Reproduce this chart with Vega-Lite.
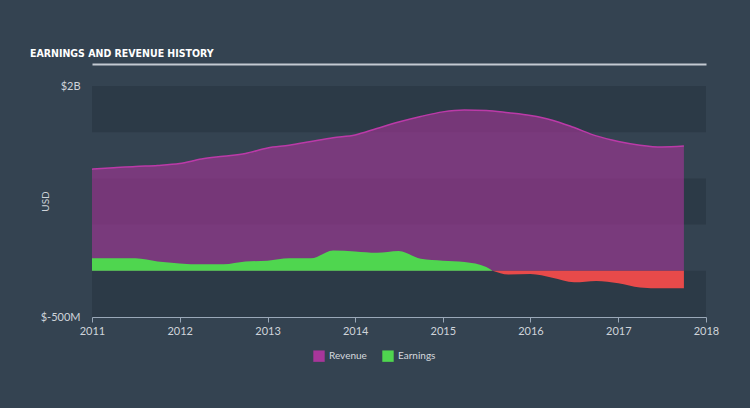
{
  "$schema": "https://vega.github.io/schema/vega-lite/v6.json",
  "width": 614,
  "height": 231,
  "autosize": {"type": "none"},
  "padding": {"left": 92, "top": 86, "right": 44, "bottom": 91},
  "background": "#344351",
  "title": {
    "text": "EARNINGS AND REVENUE HISTORY",
    "anchor": "start",
    "frame": "group",
    "dx": -62,
    "offset": 5,
    "font": "DejaVu Sans Condensed",
    "fontSize": 10.5,
    "fontWeight": "bold",
    "color": "#ffffff"
  },
  "datasets": {
    "bands": [
      {"lo": 1.5, "hi": 2.0},
      {"lo": 0.5, "hi": 1.0},
      {"lo": -0.5, "hi": 0.0}
    ],
    "rev": [
      {"date": "2011-01-01", "value": 1.10},
      {"date": "2011-04-01", "value": 1.115},
      {"date": "2011-07-01", "value": 1.13},
      {"date": "2011-10-01", "value": 1.14},
      {"date": "2012-01-01", "value": 1.16},
      {"date": "2012-04-01", "value": 1.21},
      {"date": "2012-07-01", "value": 1.24},
      {"date": "2012-10-01", "value": 1.27},
      {"date": "2013-01-01", "value": 1.33},
      {"date": "2013-04-01", "value": 1.36},
      {"date": "2013-07-01", "value": 1.40},
      {"date": "2013-10-01", "value": 1.44},
      {"date": "2014-01-01", "value": 1.47},
      {"date": "2014-04-01", "value": 1.54},
      {"date": "2014-07-01", "value": 1.61},
      {"date": "2014-10-01", "value": 1.67},
      {"date": "2015-01-01", "value": 1.72},
      {"date": "2015-04-01", "value": 1.74},
      {"date": "2015-07-01", "value": 1.735},
      {"date": "2015-10-01", "value": 1.71},
      {"date": "2016-01-01", "value": 1.68},
      {"date": "2016-04-01", "value": 1.63},
      {"date": "2016-07-01", "value": 1.55},
      {"date": "2016-10-01", "value": 1.46},
      {"date": "2017-01-01", "value": 1.40},
      {"date": "2017-04-01", "value": 1.36},
      {"date": "2017-07-01", "value": 1.34},
      {"date": "2017-10-01", "value": 1.35}
    ],
    "earn": [
      {"date": "2011-01-01", "value": 0.135},
      {"date": "2011-04-01", "value": 0.135},
      {"date": "2011-07-01", "value": 0.135},
      {"date": "2011-10-01", "value": 0.10},
      {"date": "2012-01-01", "value": 0.08},
      {"date": "2012-04-01", "value": 0.07},
      {"date": "2012-07-01", "value": 0.07},
      {"date": "2012-10-01", "value": 0.10},
      {"date": "2013-01-01", "value": 0.11},
      {"date": "2013-04-01", "value": 0.135},
      {"date": "2013-07-01", "value": 0.135},
      {"date": "2013-10-01", "value": 0.22},
      {"date": "2014-01-01", "value": 0.21},
      {"date": "2014-04-01", "value": 0.195},
      {"date": "2014-07-01", "value": 0.215},
      {"date": "2014-10-01", "value": 0.13},
      {"date": "2015-01-01", "value": 0.11},
      {"date": "2015-04-01", "value": 0.095},
      {"date": "2015-07-01", "value": 0.04},
      {"date": "2015-07-27", "value": 0.0},
      {"date": "2015-10-01", "value": -0.04},
      {"date": "2016-01-01", "value": -0.035},
      {"date": "2016-04-01", "value": -0.075},
      {"date": "2016-07-01", "value": -0.125},
      {"date": "2016-10-01", "value": -0.11},
      {"date": "2017-01-01", "value": -0.135},
      {"date": "2017-04-01", "value": -0.18},
      {"date": "2017-07-01", "value": -0.19},
      {"date": "2017-10-01", "value": -0.19}
    ]
  },
  "resolve": {"axis": {"x": "independent"}},
  "layer": [
    {
      "data": {"name": "bands"},
      "mark": {"type": "rect", "color": "#2c3a47"},
      "encoding": {
        "y": {
          "field": "lo", "type": "quantitative",
          "scale": {"domain": [-0.5, 2], "nice": false, "zero": false},
          "axis": {
            "values": [-0.5, 2],
            "labelExpr": "datum.value == 2 ? '$2B' : '$-500M'",
            "domain": false,
            "ticks": false,
            "grid": false,
            "labelColor": "#cfd4da",
            "labelFontSize": 11,
            "labelPadding": 12,
            "title": "USD",
            "titleColor": "#cfd4da",
            "titleFontSize": 10,
            "titleFontWeight": "normal",
            "titleX": -42,
            "titleY": 115
          }
        },
        "y2": {"field": "hi"}
      }
    },
    {
      "data": {"name": "rev"},
      "mark": {"type": "area", "interpolate": "monotone", "opacity": 0.6},
      "encoding": {
        "x": {
          "field": "date", "type": "temporal",
          "scale": {"type": "utc", "domain": [{"year": 2011, "month": 1, "date": 1, "utc": true}, {"year": 2018, "month": 1, "date": 1, "utc": true}]},
          "axis": {
            "orient": "bottom",
            "format": "%Y",
            "tickCount": {"interval": "year", "step": 1},
            "labelFlush": false,
            "grid": false,
            "title": null,
            "domainColor": "#9aa8b8",
            "tickColor": "#9aa8b8",
            "tickSize": 5,
            "labelColor": "#cfd4da",
            "labelFontSize": 11,
            "labelPadding": 3
          }
        },
        "y": {"field": "value", "type": "quantitative"},
        "color": {
          "datum": "Revenue",
          "scale": {"domain": ["Revenue", "Earnings"], "range": ["#a8369a", "#4fd64f"]},
          "legend": {
            "orient": "none",
            "legendX": 221,
            "legendY": 264,
            "direction": "horizontal",
            "title": null,
            "symbolType": "square",
            "symbolSize": 130,
            "symbolOpacity": 1,
            "symbolStrokeWidth": 0,
            "labelColor": "#d5d9de",
            "labelFontSize": 10,
            "labelOffset": 4,
            "columnPadding": 15,
            "padding": 0
          }
        }
      }
    },
    {
      "data": {"name": "rev"},
      "mark": {"type": "line", "interpolate": "monotone", "color": "#bb3aa8", "strokeWidth": 1.5},
      "encoding": {
        "x": {"field": "date", "type": "temporal", "axis": null},
        "y": {"field": "value", "type": "quantitative"}
      }
    },
    {
      "data": {"name": "earn"},
      "transform": [{"filter": "datum.value >= 0"}],
      "mark": {"type": "area", "interpolate": "monotone", "opacity": 1},
      "encoding": {
        "x": {
          "field": "date", "type": "temporal",
          "axis": {"orient": "top", "offset": 22, "domain": true, "domainColor": "#c3cad2", "domainWidth": 2, "labels": false, "ticks": false, "grid": false, "title": null}
        },
        "y": {"field": "value", "type": "quantitative"},
        "color": {"datum": "Earnings"}
      }
    },
    {
      "data": {"name": "earn"},
      "transform": [{"filter": "datum.value <= 0"}],
      "mark": {"type": "area", "interpolate": "monotone", "color": "#e84a4a"},
      "encoding": {
        "x": {"field": "date", "type": "temporal", "axis": null},
        "y": {"field": "value", "type": "quantitative"}
      }
    },
    {
      "mark": {"type": "rule", "color": "#dcdcdc", "strokeWidth": 1, "opacity": 0.75},
      "encoding": {"y": {"datum": 0, "type": "quantitative"}}
    }
  ],
  "encoding": {},
  "config": {
    "font": "Lato",
    "view": {"stroke": null}
  }
}
